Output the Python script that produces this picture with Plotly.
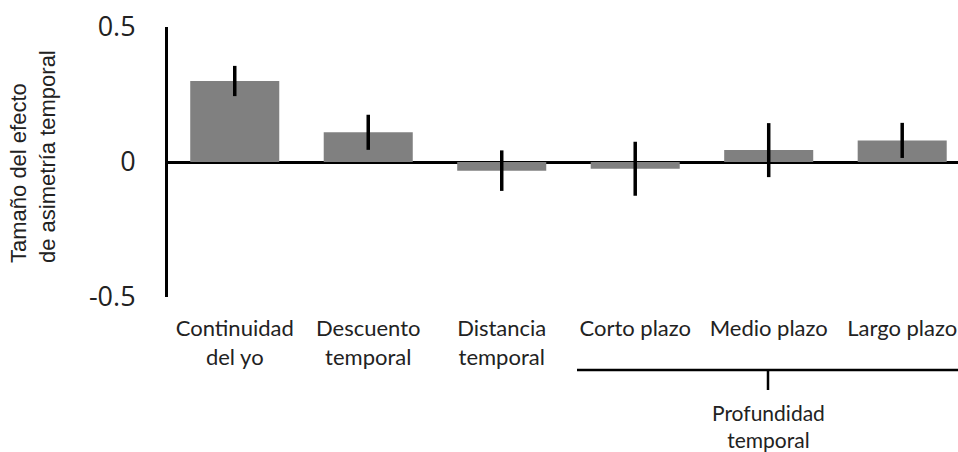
import plotly.graph_objects as go

categories = ["Continuidad<br>del yo", "Descuento<br>temporal", "Distancia<br>temporal",
              "Corto plazo", "Medio plazo", "Largo plazo"]
values = [0.30, 0.11, -0.032, -0.025, 0.044, 0.08]
errors = [0.056, 0.065, 0.075, 0.10, 0.10, 0.065]
y_ticks = [-0.5, 0, 0.5]
y_ticktext = ["-0.5", "0", "0.5"]
group_label = "Profundidad<br>temporal"
y_title = "Tamaño del efecto<br>de asimetría temporal"

x_idx = list(range(len(categories)))

fig = go.Figure()
fig.add_trace(go.Bar(
    x=x_idx, y=values,
    marker=dict(color="#808080", line=dict(width=0)),
    error_y=dict(type="data", array=errors, visible=True, color="black",
                 thickness=3.5, width=0),
    width=0.667,
))

W, H = 958, 452
ml, mr, mt, mb = 168, 0, 27, 155
pw = W - ml - mr
ph = H - mt - mb

fig.update_layout(
    width=W, height=H,
    margin=dict(l=ml, r=mr, t=mt, b=mb, pad=0),
    paper_bgcolor="white", plot_bgcolor="white",
    showlegend=False,
    font=dict(family="Open Sans", color="#222222"),
    xaxis=dict(
        range=[-0.5, 5.418],
        tickmode="array", tickvals=x_idx, ticktext=categories,
        tickfont=dict(family="Lato", size=22, color="#222222"),
        ticks="outside", ticklen=12, tickcolor="rgba(0,0,0,0)",
        showline=False, showgrid=False, zeroline=False,
    ),
    yaxis=dict(
        range=[-0.5, 0.5],
        tickmode="array", tickvals=y_ticks, ticktext=y_ticktext,
        tickfont=dict(family="Open Sans", size=27, color="#222222"),
        ticks="outside", ticklen=24, tickcolor="rgba(0,0,0,0)",
        showline=True, linecolor="black", linewidth=3,
        showgrid=False,
        zeroline=True, zerolinecolor="black", zerolinewidth=3,
    ),
)

# y-axis title
fig.add_annotation(
    text=y_title, textangle=-90, showarrow=False, align="left",
    xref="paper", yref="paper",
    x=(33 - ml) / pw, y=(297 - 157) / ph,
    xanchor="center", yanchor="middle",
    font=dict(family="Liberation Sans", size=22, color="#222222"),
)

# bracket for the group
y_line = (297 - 370) / ph
y_tick_end = (297 - 390) / ph
x_start = (577 - ml) / pw
x_mid = (768 - ml) / pw
fig.add_shape(type="line", xref="paper", yref="paper",
              x0=x_start, x1=1, y0=y_line, y1=y_line,
              line=dict(color="black", width=2.5))
fig.add_shape(type="line", xref="paper", yref="paper",
              x0=x_mid, x1=x_mid, y0=y_line, y1=y_tick_end,
              line=dict(color="black", width=2.5))
fig.add_annotation(
    text=group_label, showarrow=False,
    xref="x", yref="paper", x=4, y=(297 - 426) / ph,
    xanchor="center", yanchor="middle",
    font=dict(family="Lato", size=21, color="#222222"),
)

fig.write_html("out.html",
               config={"displayModeBar": False},
               post_script="document.body.style.margin='0';document.body.style.overflow='hidden';")
